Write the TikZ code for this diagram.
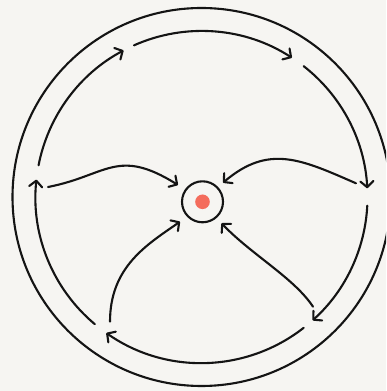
\documentclass[tikz,border=0pt]{standalone}
\usetikzlibrary{arrows.meta,calc}
\definecolor{bg}{RGB}{246,245,242}
\definecolor{dotred}{RGB}{244,108,92}
\definecolor{ink}{RGB}{20,20,20}
\begin{document}
\begin{tikzpicture}[x=1pt,y=1pt,
  ln/.style={line width=2.1pt, line cap=round, line join=round, draw=ink},
  arr/.style={ln, -{Straight Barb[length=6pt,width=13pt,line cap=round,line join=round]}}]
\fill[bg] (0,0) rectangle (386,391);
\useasboundingbox (0,0) rectangle (386,391);
\clip (0,0) rectangle (386,391);
\coordinate (C) at (201.5,194);
\draw[ln] (C) circle[radius=189];
\foreach \a/\b in {169/118, 114/57, 52/3, -3/-48, -52/-125, -130/-186}
  \draw[arr] ($(C)+(\a:166)$) arc[start angle=\a, end angle=\b, radius=166];
% hub
\node[circle, ln, draw, minimum size=41pt, inner sep=0pt] (hub) at (202.5,189.2) {};
\node[circle, fill=dotred, minimum size=14.6pt, inner sep=0pt] (dot) at (hub.center) {};
% spoke end points
\coordinate (s1a) at (48,204);    \coordinate (s1b) at (178,206);
\coordinate (s2a) at (356,207.7); \coordinate (s2b) at (223,208.3);
\coordinate (s3a) at (110,69.3);  \coordinate (s3b) at (180,169.3);
\coordinate (s4a) at (313,84.3);  \coordinate (s4b) at (221.5,167.7);
\draw[arr] (s1a) .. controls (107,215.4) and (117,244) .. (s1b);
\draw[arr] (s2a) .. controls (301,231.7) and (268.8,247.1) .. (s2b);
\draw[arr] (s3a) .. controls (110,124.3) and (147.2,146.5) .. (s3b);
\draw[arr] (s4a) .. controls (294,113) and (252,136) .. (s4b);
\end{tikzpicture}
\end{document}
